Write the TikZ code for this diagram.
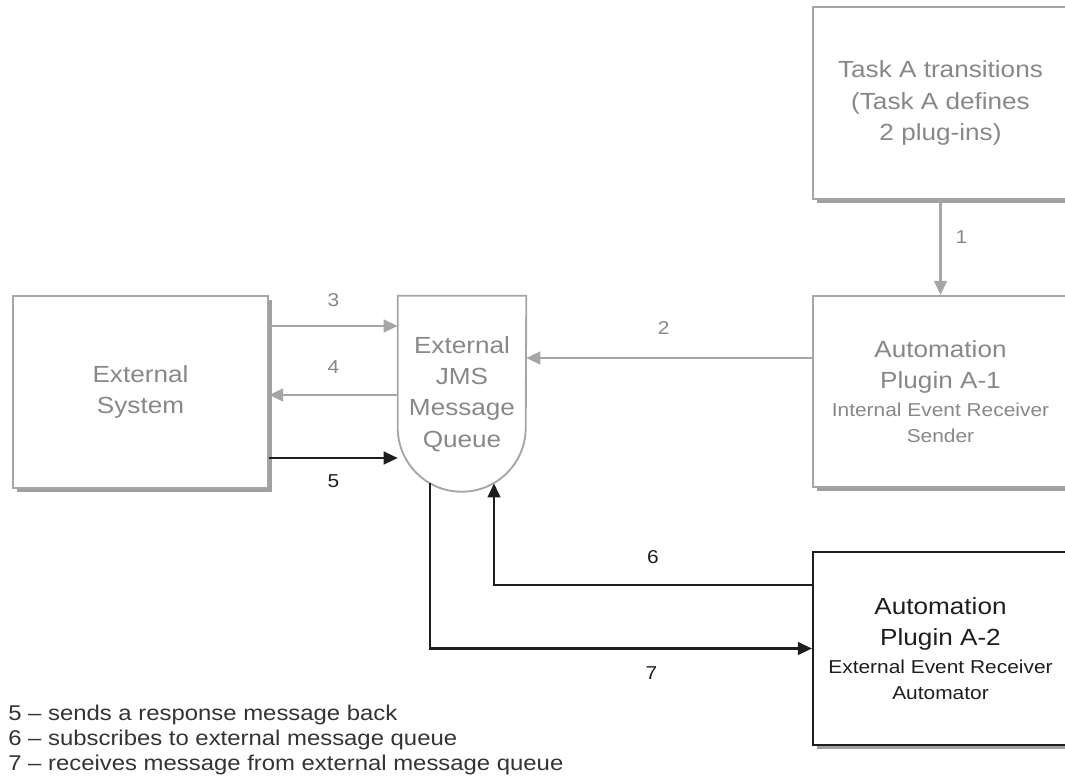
\documentclass[tikz,border=0pt]{standalone}
\usepackage{fontspec}
\setmainfont[FakeStretch=1.12]{Liberation Sans}
\usetikzlibrary{arrows.meta,shadows}
\definecolor{lgray}{HTML}{A6A6A6}
\definecolor{tgray}{HTML}{888888}
\definecolor{dk}{HTML}{1E1E1E}
\definecolor{shad}{HTML}{A0A0A0}
\definecolor{legc}{HTML}{333333}
\newcommand{\bigf}{\fontsize{17.5}{23.5}\selectfont}
\newcommand{\smallf}{\fontsize{14}{18.75}\selectfont}
\begin{document}
\begin{tikzpicture}[x=0.75pt,y=0.75pt,
  boxbase/.style={line width=1.6pt, fill=white, minimum width=191.25pt, align=center,
    font=\bigf, inner sep=0pt,
    drop shadow={shadow xshift=3pt,shadow yshift=-3pt,fill=shad,opacity=1}},
  gbox/.style={boxbase, draw=lgray, text=tgray},
  kbox/.style={boxbase, draw=dk, text=dk},
  garrow/.style={draw=lgray, line width=1.6pt, -{Triangle[length=10.5pt,width=9.5pt]}},
  karrow/.style={draw=dk, line width=1.6pt, -{Triangle[length=10.5pt,width=9.5pt]}},
  glbl/.style={text=tgray, font=\fontsize{14}{16}\selectfont},
  klbl/.style={text=dk, font=\fontsize{14}{16}\selectfont},
  legend/.style={text=legc, font=\fontsize{16}{18}\selectfont, anchor=base west, inner sep=0pt}]
\useasboundingbox (0,0) rectangle (1065,-784);
\clip (0,0) rectangle (1065,-784);

% boxes
\node[gbox, minimum height=144pt] (ext) at (140.5,-392) {External\\System};
\node[gbox, minimum height=144pt] (task) at (940.5,-103) {Task A transitions\\(Task A defines\\2 plug-ins)};
\node[gbox, minimum height=143.25pt] (a1) at (940.5,-391.5)
  {Automation\\Plugin A-1\\[-3pt]{\smallf Internal Event Receiver}\\[-4pt]{\smallf Sender}};
\node[kbox, minimum height=144.75pt] (a2) at (940.5,-648.5)
  {Automation\\Plugin A-2\\[-3pt]{\smallf External Event Receiver}\\[-4pt]{\smallf Automator}};

% queue
\node[text=tgray, font=\bigf, align=center, minimum width=96pt, minimum height=147pt, inner sep=0pt]
  (q) at (462,-394) {External\\JMS\\Message\\Queue};
\draw[lgray, line width=1.4pt] (q.north west) -- ([yshift=-99pt]q.north west)
  arc[start angle=180, end angle=360, radius=48pt] -- (q.north east) -- cycle;
\coordinate (q6) at (494,-483.4);
\coordinate (q7) at (430,-483.4);

% connectors
\draw[garrow] (task) -- node[glbl, midway, xshift=15.75pt, yshift=7.5pt] {1} (a1);
\draw[garrow] (a1.west |- 0,-358) -- node[glbl, midway, xshift=-4pt, yshift=22.5pt] {2} (q.east |- 0,-358);
\draw[garrow] (ext.east |- 0,-326) -- node[glbl, midway, yshift=19.5pt] {3} (q.west |- 0,-326);
\draw[garrow] (q.west |- 0,-395) -- node[glbl, midway, yshift=21pt] {4} (ext.east |- 0,-395);
\draw[karrow] (ext.east |- 0,-458) -- node[klbl, midway, yshift=-17.25pt] {5} (q.west |- 0,-458);
\draw[karrow] (a2.west |- 0,-585) -| node[klbl, pos=0.25, yshift=21pt] {6} (q6);
\draw[karrow] (q7) |- node[klbl, pos=0.79, yshift=-18.75pt] {7} (a2.west);

% legend
\node[legend] (l5) at (8,-720) {5 – sends a response message back};
\node[legend] (l6) at (8,-745) {6 – subscribes to external message queue};
\node[legend] (l7) at (8,-770) {7 – receives message from external message queue};
\end{tikzpicture}
\end{document}
